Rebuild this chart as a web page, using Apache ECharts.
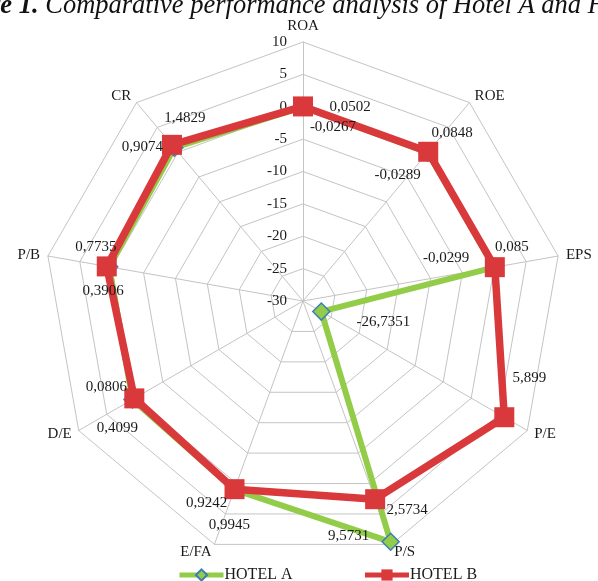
<!DOCTYPE html>
<html>
<head>
<meta charset="utf-8">
<script src="https://cdn.jsdelivr.net/npm/echarts@6/dist/echarts.min.js"></script>
<style>
  html, body { margin: 0; padding: 0; background: #fff; }
  #chart { width: 598px; height: 581px; }
</style>
</head>
<body>
<div id="chart"></div>
<script>
// Financial ratios compared for the two hotels
const indicators = ['ROA', 'ROE', 'EPS', 'P/E', 'P/S', 'E/FA', 'D/E', 'P/B', 'CR'];
const hotelA = [-0.0267, -0.0289, -0.0299, -26.7351, 9.5731, 0.9945, 0.4099, 0.3906, 0.9074];
const hotelB = [0.0502, 0.0848, 0.085, 5.899, 2.5734, 0.9242, 0.0806, 0.7735, 1.4829];
const scaleMin = -30;
const scaleMax = 10;
const scaleSplits = 8;

// Value label placement (pixel offset from each point)
const labelShiftA = [[30, 20], [-30, 23], [-48, -9], [62, 10], [-42, -6], [-5, 35], [-15, 29], [-6, 24], [-32, -1]];
const labelShiftB = [[47, 1], [24, -19], [17, -20], [25, -39], [32, 11], [-28, 14], [-28, -11], [-11, -19], [13, -27]];

const CX = 303, CY = 301, R = 259;
const serif = '"Liberation Serif", "Times New Roman", serif';
const fmt = v => String(v).replace('.', ',');
const step = 360 / indicators.length;

// Radar indicators run counter-clockwise, so list them in reverse after the first
const radarOrder = [0].concat(indicators.map((_, i) => i).slice(1).reverse());

function polarPoints(values, shifts, withLabels) {
  const pts = values.map((v, i) => ({
    value: [v, i * step],
    label: withLabels
      ? { show: true, position: 'inside', offset: shifts[i], formatter: fmt(v) }
      : { show: false }
  }));
  pts.push({ value: [values[0], 360], symbol: 'none', label: { show: false } });
  return pts;
}

const labelText = { color: '#1a1a1a', fontFamily: serif, fontSize: 15 };

const chart = echarts.init(document.getElementById('chart'), null, { renderer: 'canvas' });
chart.setOption({
  animation: false,
  backgroundColor: '#ffffff',
  textStyle: { fontFamily: serif },
  graphic: [{
    type: 'text',
    x: -63,
    y: -7,
    style: {
      text: '{b|Figure 1.} Comparative performance analysis of Hotel A and Hotel B',
      font: 'italic 26.5px ' + serif,
      fill: '#111',
      rich: { b: { fontWeight: 'bold', fontStyle: 'italic', fontSize: 26.5, fontFamily: serif } }
    }
  }],
  radar: {
    center: [CX, CY],
    radius: R,
    startAngle: 90,
    shape: 'polygon',
    splitNumber: scaleSplits,
    nameGap: 8,
    axisName: { color: '#1a1a1a', fontFamily: serif, fontSize: 15 },
    splitLine: { lineStyle: { color: '#c4c4c4', width: 1 } },
    splitArea: { show: false },
    axisLine: { lineStyle: { color: '#c4c4c4', width: 1 } },
    axisTick: { show: false },
    axisLabel: { show: false },
    indicator: radarOrder.map((i, k) => {
      const ind = { name: indicators[i], min: scaleMin, max: scaleMax };
      if (k === 0) {
        ind.axisLabel = { show: true, color: '#1a1a1a', fontFamily: serif, fontSize: 15, margin: 16 };
      }
      return ind;
    })
  },
  polar: { center: [CX, CY], radius: R },
  angleAxis: { type: 'value', min: 0, max: 360, startAngle: 90, clockwise: true, show: false },
  radiusAxis: { type: 'value', min: scaleMin, max: scaleMax, show: false },
  legend: {
    data: ['HOTEL A', 'HOTEL B'],
    left: 172,
    top: 562,
    itemWidth: 44,
    itemHeight: 14,
    itemGap: 70,
    lineStyle: { width: 5 },
    textStyle: { color: '#1a1a1a', fontFamily: serif, fontSize: 16, padding: [0, 0, 0, -4] }
  },
  series: [
    {
      name: 'HOTEL A',
      type: 'line',
      coordinateSystem: 'polar',
      data: polarPoints(hotelA, labelShiftA, false),
      symbol: 'diamond',
      symbolSize: 17,
      lineStyle: { color: '#92CC48', width: 6 },
      itemStyle: { color: '#92CC48', borderColor: '#3D7FB5', borderWidth: 1.5 },
      z: 3
    },
    {
      name: 'HOTEL B',
      type: 'line',
      coordinateSystem: 'polar',
      data: polarPoints(hotelB, labelShiftB, true),
      symbol: 'rect',
      symbolSize: 20,
      lineStyle: { color: '#D9393B', width: 7.5 },
      itemStyle: { color: '#D9393B', borderWidth: 0 },
      label: labelText,
      z: 4
    },
    {
      // Hotel A value labels, kept above both outlines
      type: 'line',
      coordinateSystem: 'polar',
      data: polarPoints(hotelA, labelShiftA, true),
      symbol: 'circle',
      symbolSize: 1,
      lineStyle: { width: 0, opacity: 0 },
      itemStyle: { color: 'rgba(0,0,0,0)' },
      label: labelText,
      silent: true,
      z: 5
    }
  ]
});
</script>
</body>
</html>
